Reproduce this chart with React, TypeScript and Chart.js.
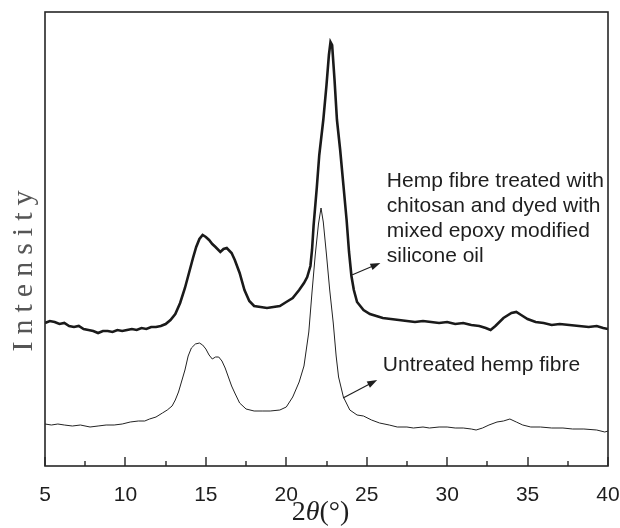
import React, { useEffect, useRef } from 'react';
import { Chart, registerables } from 'chart.js';

Chart.register(...registerables);

// ---- data ----
const treatedAngle = [
  5.0, 5.3, 5.6, 5.9, 6.2, 6.5, 6.8, 7.1, 7.4, 7.7, 8.0, 8.3, 8.6, 8.9, 9.2, 9.5, 9.8, 10.1, 10.4, 10.7,
  11.0, 11.3, 11.6, 11.9, 12.2, 12.5, 12.8, 13.1, 13.4, 13.7, 14.0, 14.2, 14.4, 14.6, 14.8, 15.0, 15.2, 15.4,
  15.6, 15.9, 16.1, 16.3, 16.6, 16.8, 17.1, 17.4, 17.7, 18.0, 18.4, 18.8, 19.2, 19.6, 20.0, 20.4, 20.8, 21.1,
  21.3, 21.5, 21.6, 21.7, 21.9, 22.05, 22.3, 22.5, 22.65, 22.75, 22.85, 23.0, 23.15, 23.35, 23.55, 23.75,
  23.9, 24.05, 24.2, 24.4, 24.8, 25.2, 25.6, 26.0, 26.5, 27.0, 27.5, 28.0, 28.5, 29.0, 29.5, 30.0, 30.5,
  31.0, 31.5, 32.0, 32.4, 32.7, 33.0, 33.5, 34.0, 34.3, 34.6, 35.0, 35.5, 36.0, 36.5, 37.0, 37.6, 38.2,
  38.8, 39.3, 39.7, 40.0,
];
const treatedIntensity = [
  143, 145, 144, 142, 143, 140, 139, 140, 137, 136, 135, 133, 135, 135, 134, 136, 135, 136, 137, 136,
  138, 137, 139, 139, 140, 142, 146, 152, 163, 178, 196, 208, 219, 227, 231, 229, 226, 222,
  219, 214, 217, 218, 213, 206, 193, 176, 165, 160, 159, 158, 159, 160, 164, 168, 176, 183,
  189, 200, 216, 241, 279, 311, 346, 381, 411, 424, 421, 386, 346, 316, 281, 246,
  214, 190, 176, 164, 156, 152, 150, 148, 147, 146, 145, 144, 145, 144, 143, 144, 142,
  143, 141, 140, 138, 136, 140, 148, 153, 154, 151, 147, 144, 143, 141, 142, 141, 140,
  139, 140, 138, 137,
];

const untreatedAngle = [
  5.0, 5.4, 5.8, 6.2, 6.7, 7.2, 7.8, 8.3, 8.8, 9.3, 9.8, 10.3, 10.8, 11.2, 11.5, 11.9, 12.3, 12.6, 12.9,
  13.1, 13.3, 13.5, 13.7, 13.9, 14.1, 14.35, 14.6, 14.8, 15.0, 15.2, 15.4, 15.6, 15.8, 16.0, 16.2, 16.4,
  16.6, 16.8, 17.1, 17.5, 18.0, 18.5, 19.0, 19.6, 20.0, 20.4, 20.8, 21.1, 21.4, 21.6, 21.8, 22.0, 22.16,
  22.3, 22.5, 22.7, 22.92, 23.1, 23.25, 23.55, 23.95, 24.4, 24.8, 25.3, 25.8, 26.4, 26.9, 27.5, 27.9,
  28.5, 28.9, 29.5, 30.0, 30.5, 31.0, 31.5, 31.8, 32.2, 32.6, 33.1, 33.5, 33.9, 34.3, 34.7, 35.2, 35.8,
  36.5, 37.2, 37.8, 38.5, 39.3, 39.8, 40.0,
];
const untreatedIntensity = [
  42, 41, 42, 41, 40, 41, 39, 40, 41, 41, 42, 44, 45, 45, 47, 49, 53, 56, 60,
  66, 74, 85, 96, 110, 118, 122, 123, 121, 117, 111, 107, 109, 109, 105, 98, 89,
  80, 73, 63, 57, 55, 55, 55, 56, 59, 69, 84, 100, 134, 174, 211, 242, 258,
  244, 211, 176, 143, 110, 89, 69, 56, 51, 50, 46, 43, 41, 39, 39, 38,
  39, 38, 39, 39, 38, 38, 37, 36, 38, 41, 44, 45, 47, 44, 41, 39, 39,
  38, 38, 37, 37, 36, 34, 35,
];

const majorTicks = [5, 10, 15, 20, 25, 30, 35, 40];
const minorTicks = [7.5, 12.5, 17.5, 22.5, 27.5, 32.5, 37.5];

const treatedLabel = [
  'Hemp fibre treated with',
  'chitosan and dyed with',
  'mixed epoxy modified',
  'silicone oil',
];
const untreatedLabel = 'Untreated hemp fibre';
const yTitle = 'Intensity';

// ---- annotation placement (in data coordinates) ----
const annot = {
  treatedText: { x: 26.25, y: [285, 260, 235, 210] },
  treatedArrow: { from: [24.08, 191], to: [25.85, 203] },
  untreatedText: { x: 26.0, y: 101 },
  untreatedArrow: { from: [23.53, 68], to: [25.65, 86] },
};

function drawArrow(ctx: CanvasRenderingContext2D, x1: number, y1: number, x2: number, y2: number) {
  const ang = Math.atan2(y2 - y1, x2 - x1);
  const head = 10;
  const hw = 3.5;
  ctx.beginPath();
  ctx.moveTo(x1, y1);
  ctx.lineTo(x2 - Math.cos(ang) * head * 0.8, y2 - Math.sin(ang) * head * 0.8);
  ctx.stroke();
  ctx.beginPath();
  ctx.moveTo(x2, y2);
  ctx.lineTo(x2 - Math.cos(ang) * head - Math.sin(ang) * hw, y2 - Math.sin(ang) * head + Math.cos(ang) * hw);
  ctx.lineTo(x2 - Math.cos(ang) * head + Math.sin(ang) * hw, y2 - Math.sin(ang) * head - Math.cos(ang) * hw);
  ctx.closePath();
  ctx.fill();
}

const decorPlugin = {
  id: 'decor',
  afterDatasetsDraw(chart: any) {
    const { ctx, chartArea: a, scales } = chart;
    const xs = scales.x;
    const ys = scales.y;
    ctx.save();
    // frame
    ctx.strokeStyle = '#262626';
    ctx.lineWidth = 1.6;
    ctx.strokeRect(a.left, a.top, a.right - a.left, a.bottom - a.top);
    // inward ticks
    ctx.lineWidth = 1.4;
    ctx.beginPath();
    majorTicks.forEach((v) => {
      const px = Math.round(xs.getPixelForValue(v));
      ctx.moveTo(px, a.bottom);
      ctx.lineTo(px, a.bottom - 9);
    });
    minorTicks.forEach((v) => {
      const px = Math.round(xs.getPixelForValue(v));
      ctx.moveTo(px, a.bottom);
      ctx.lineTo(px, a.bottom - 5);
    });
    ctx.stroke();

    // annotation texts
    ctx.fillStyle = '#1e1e1e';
    ctx.font = '21px "Liberation Sans", Arial, sans-serif';
    ctx.textBaseline = 'middle';
    ctx.textAlign = 'left';
    treatedLabel.forEach((t, i) => {
      ctx.fillText(t, xs.getPixelForValue(annot.treatedText.x), ys.getPixelForValue(annot.treatedText.y[i]));
    });
    ctx.fillText(untreatedLabel, xs.getPixelForValue(annot.untreatedText.x), ys.getPixelForValue(annot.untreatedText.y));

    // arrows
    ctx.strokeStyle = '#1e1e1e';
    ctx.lineWidth = 1.1;
    const ta = annot.treatedArrow;
    drawArrow(ctx, xs.getPixelForValue(ta.from[0]), ys.getPixelForValue(ta.from[1]), xs.getPixelForValue(ta.to[0]), ys.getPixelForValue(ta.to[1]));
    const ua = annot.untreatedArrow;
    drawArrow(ctx, xs.getPixelForValue(ua.from[0]), ys.getPixelForValue(ua.from[1]), xs.getPixelForValue(ua.to[0]), ys.getPixelForValue(ua.to[1]));

    // x-axis title: 2θ(°)
    const serif = '"Liberation Serif", "Times New Roman", serif';
    const fReg = `28px ${serif}`;
    const fIt = `italic 28px ${serif}`;
    const parts: [string, string][] = [['2', fReg], ['θ', fIt], ['(°)', fReg]];
    let total = 0;
    parts.forEach(([t, f]) => { ctx.font = f; total += ctx.measureText(t).width; });
    let cx = (a.left + a.right) / 2 - 6 - total / 2;
    const ty = 513;
    ctx.fillStyle = '#1e1e1e';
    ctx.textBaseline = 'middle';
    parts.forEach(([t, f]) => {
      ctx.font = f;
      ctx.fillText(t, cx, ty);
      cx += ctx.measureText(t).width;
    });

    // y-axis title
    ctx.save();
    ctx.translate(24, 271);
    ctx.rotate(-Math.PI / 2);
    ctx.font = `30px ${serif}`;
    (ctx as any).letterSpacing = '7px';
    ctx.fillStyle = '#555';
    ctx.textAlign = 'center';
    ctx.textBaseline = 'middle';
    ctx.fillText(yTitle, 3.5, 0);
    ctx.restore();

    ctx.restore();
  },
};

export default function App() {
  const ref = useRef<HTMLCanvasElement | null>(null);
  useEffect(() => {
    if (!ref.current) return;
    const chart = new Chart(ref.current, {
      type: 'line',
      data: {
        datasets: [
          {
            label: 'Hemp fibre treated with chitosan and dyed with mixed epoxy modified silicone oil',
            data: treatedAngle.map((x, i) => ({ x, y: treatedIntensity[i] })),
            borderColor: '#1a1a1a',
            borderWidth: 2.6,
            pointRadius: 0,
            tension: 0,
            fill: false,
          },
          {
            label: 'Untreated hemp fibre',
            data: untreatedAngle.map((x, i) => ({ x, y: untreatedIntensity[i] })),
            borderColor: '#222',
            borderWidth: 1,
            pointRadius: 0,
            tension: 0,
            fill: false,
          },
        ],
      },
      options: {
        responsive: false,
        animation: false,
        devicePixelRatio: 1,
        layout: { padding: { left: 0, right: 12, top: 12, bottom: 0 } },
        plugins: { legend: { display: false }, tooltip: { enabled: false } },
        scales: {
          x: {
            type: 'linear',
            min: 5,
            max: 40,
            grid: { display: false },
            border: { display: false },
            ticks: {
              stepSize: 5,
              padding: 9,
              color: '#1e1e1e',
              font: { family: '"Liberation Sans", Arial, sans-serif', size: 21 },
              maxRotation: 0,
            },
            afterFit: (s: any) => { s.height = 62; s.paddingLeft = 0; s.paddingRight = 0; },
          },
          y: {
            type: 'linear',
            min: 0,
            max: 454,
            grid: { display: false },
            border: { display: false },
            ticks: { display: false },
            afterFit: (s: any) => { s.width = 45; },
          },
        },
      },
      plugins: [decorPlugin],
    } as any);
    return () => chart.destroy();
  }, []);
  return (
    <div style={{ position: 'fixed', left: 0, top: 0, width: 620, height: 528, background: '#fff' }}>
      <canvas ref={ref} width={620} height={528} />
    </div>
  );
}
